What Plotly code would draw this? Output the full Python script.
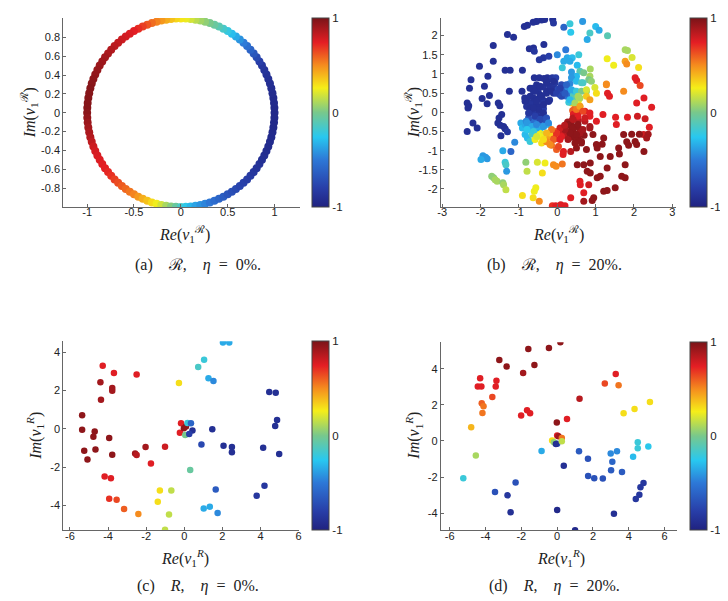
import math
import plotly.graph_objects as go

# ---------------- data ----------------
# (a) ring: angle (deg) on unit circle and colour value read along the ring
a_angle = [0, 3, 6, 9, 12, 15, 18, 21, 24, 27, 30, 33, 36, 39, 42, 45, 48, 51, 54, 57,
           60, 63, 66, 69, 72, 75, 78, 81, 84, 87, 90, 93, 96, 99, 102, 105, 108, 111, 114, 117,
           120, 123, 126, 129, 132, 135, 138, 141, 144, 147, 150, 153, 156, 159, 162, 165, 168,
           171, 174, 177, 180, 183, 186, 189, 192, 195, 198, 201, 204, 207, 210, 213, 216, 219,
           222, 225, 228, 231, 234, 237, 240, 243, 246, 249, 252, 255, 258, 261, 264, 267, 270,
           273, 276, 279, 282, 285, 288, 291, 294, 297, 300, 303, 306, 309, 312, 315, 318, 321,
           324, 327, 330, 333, 336, 339, 342, 345, 348, 351, 354, 357]
a_val = [-0.95, -0.95, -0.94, -0.94, -0.93, -0.92, -0.91, -0.9, -0.89, -0.87, -0.85, -0.8,
         -0.74, -0.67, -0.61, -0.55, -0.49, -0.42, -0.35, -0.29, -0.22, -0.16, -0.1, -0.05, 0.0,
         0.05, 0.09, 0.14, 0.19, 0.24, 0.28, 0.32, 0.37, 0.42, 0.47, 0.52, 0.57, 0.62, 0.67,
         0.71, 0.74, 0.76, 0.78, 0.8, 0.82, 0.84, 0.86, 0.88, 0.9, 0.91, 0.92, 0.93, 0.94, 0.95,
         0.96, 0.97, 0.97, 0.97, 0.97, 0.97, 0.96, 0.94, 0.92, 0.9, 0.88, 0.86, 0.83, 0.8, 0.78,
         0.77, 0.76, 0.75, 0.74, 0.72, 0.7, 0.67, 0.64, 0.61, 0.58, 0.55, 0.52, 0.47, 0.42, 0.37,
         0.31, 0.25, 0.18, 0.1, 0.03, -0.05, -0.15, -0.24, -0.31, -0.37, -0.42, -0.46, -0.51,
         -0.56, -0.6, -0.64, -0.68, -0.71, -0.74, -0.77, -0.79, -0.81, -0.83, -0.85, -0.87,
         -0.88, -0.9, -0.91, -0.92, -0.93, -0.93, -0.94, -0.94, -0.95, -0.95, -0.95]

# (b) scattered points
b_top_re = [-0.12, -0.33, -0.41, -0.54, -0.63, -0.78, -0.86, -0.10, 0.17, 0.33, 0.66, 1.0, 1.09,
            0.35, -1.30, -1.14, 0.85, 1.31, 0.78, -1.67, -0.62, -0.73, -0.35, -0.6, -0.36, -0.47,
            -0.22, 0.22, 0.0, 0.26, 0.39, 0.56]
b_top_im = [2.42, 2.42, 2.41, 2.37, 2.35, 2.27, 2.24, 2.33, 2.22, 2.31, 2.37, 2.24, 2.14, 2.09,
            2.03, 1.96, 2.07, 2.0, 1.9, 1.74, 1.68, 1.66, 1.77, 1.59, 1.42, 1.37, 1.46, 1.63, 1.5,
            1.42, 1.42, 1.5]
b_top_val = [-0.9, -0.9, -0.9, -0.9, -0.9, -0.9, -0.9, -0.85, -0.6, -0.2, -0.4, -0.3, -0.35,
             -0.25, -0.9, -0.9, -0.15, -0.1, -0.35, -0.9, -0.9, -0.9, -0.9, -0.85, -0.85, -0.85,
             -0.8, -0.5, -0.45, -0.35, -0.3, -0.2]

b_up_re = [1.77, 1.83, 1.95, -1.67, -2.03, -1.36, -1.23, -0.91, 0.17, 0.33, 0.13, 0.52, 0.59,
           0.69, 0.86, 0.85, 1.30, 1.47, 1.77, 1.81, 2.12, -1.81, -2.25, -0.6, -0.47, -0.35,
           -0.26, -0.13, -0.04, -1.9, -2.29, -1.25, -0.65, 0.82, 1.28, 2.03, 2.07, 2.16, 1.73]
b_up_im = [1.63, 1.61, 1.43, 1.33, 1.2, 1.1, 1.1, 1.1, 1.33, 1.33, 1.16, 1.23, 1.07, 1.03, 1.13,
           0.94, 1.4, 1.23, 1.33, 1.26, 1.17, 0.94, 0.85, 0.9, 0.9, 0.88, 0.9, 0.9, 0.9, 0.68,
           0.63, 0.55, 0.63, 0.85, 0.74, 0.9, 0.83, 0.7, 0.55]
b_up_val = [0.1, 0.1, 0.2, -0.9, -0.9, -0.9, -0.9, -0.9, -0.35, -0.35, -0.2, -0.3, -0.1, 0.0,
            0.1, 0.1, 0.25, 0.25, 0.45, 0.5, 0.3, -0.9, -0.9, -0.9, -0.9, -0.9, -0.9, -0.85,
            -0.8, -0.9, -0.9, -0.9, -0.85, 0.0, 0.5, 0.75, 0.75, 0.65, 0.5]

b_mid_re = [-2.35, -2.31, -2.33, -2.35, -2.2, -2.09, -1.96, -1.77, -1.83, -1.54, -1.50, -1.45,
            -0.85, -0.79, 1.31, 1.36, 2.07, 2.26, 2.46, 2.09, 2.29, 2.4, 2.25, 1.83, 1.52, 1.54]
b_mid_im = [0.24, 0.17, 0.11, -0.5, -0.28, -0.41, 0.36, 0.44, 0.22, 0.24, 0.17, -0.06, 0.37,
            0.29, 0.5, 0.42, 0.24, 0.37, 0.13, -0.1, -0.17, -0.39, -0.58, -0.13, -0.13, -0.32]
b_mid_val = [-0.9, -0.9, -0.9, -0.9, -0.9, -0.9, -0.9, -0.9, -0.9, -0.9, -0.9, -0.9, -0.9, -0.9,
             0.75, 0.75, 0.75, 0.75, 0.75, 0.8, 0.8, 0.75, 0.8, 0.75, 0.75, 0.75]

b_ll_re = [-1.11, -1.21, -1.42, -1.47, -1.55, -1.49, -1.40, -1.36, -1.30, -1.52, -1.94, -1.87,
           -1.83, -1.99, -1.36, -1.34, -1.32, -1.71, -1.66, -1.62, -1.57, -1.42, -1.40, -1.34,
           -0.82, -0.79, -0.52, -0.32, -0.39, -0.91, -0.63, -0.56, -0.60, -0.47, -0.84, -0.78,
           -0.71, -0.95, -0.91]
b_ll_im = [-0.78, -1.02, -1.0, -0.61, -0.28, -0.34, -0.37, -0.43, -0.51, -0.15, -1.13, -1.17,
           -1.21, -1.23, -1.30, -1.37, -1.54, -1.67, -1.71, -1.76, -1.8, -1.84, -1.89, -2.02,
           -1.30, -1.54, -1.30, -1.32, -1.58, -2.17, -2.23, -1.97, -2.06, -2.32, -0.58, -0.67,
           -0.76, -0.28, -0.41]
b_ll_val = [-0.45, -0.6, -0.35, -0.9, -0.9, -0.9, -0.9, -0.9, -0.85, -0.9, -0.4, -0.4, -0.4,
            -0.35, -0.2, -0.15, -0.4, 0.05, 0.05, 0.1, 0.1, 0.05, 0.1, 0.15, 0.05, 0.15, 0.2,
            0.25, 0.3, 0.3, 0.3, 0.25, 0.25, 0.5, -0.3, -0.3, -0.2, -0.35, -0.3]

b_lr_re = [-0.13, -0.04, 0.09, 0.2, -0.10, -0.03, 0.13, 0.15, 0.35, 0.52, 0.59, 0.6, 0.69, 0.78,
           0.86, 0.82, 0.95, 0.91, 0.69, 0.35, 1.21, 1.17, 1.04, 1.12, 1.38, 1.6, 1.62, 1.73,
           1.81, 1.86, 1.94, 2.14, 2.37, 2.33, 2.03, 2.07, 2.26, 1.77, 1.68, 1.77, 1.51, 1.30,
           1.21, 1.30, 1.04, 1.12, 0.69, 0.86]
b_lr_im = [-2.44, -2.44, -2.41, -2.44, -1.37, -1.41, -1.35, -1.10, -1.02, -1.37, -1.8, -1.89,
           -2.1, -1.54, -1.58, -1.89, -2.23, -2.3, -2.32, -2.23, -0.67, -0.83, -0.93, -1.15,
           -1.15, -0.93, -1.09, -0.58, -0.77, -0.86, -0.57, -0.57, -0.57, -0.67, -0.76, -0.84,
           -1.02, -1.37, -1.67, -1.71, -1.97, -2.04, -2.06, -1.45, -1.71, -1.67, -1.37, -1.32]
b_lr_val = [0.7, 0.75, 0.75, 0.75, 0.5, 0.5, 0.55, 0.75, 0.85, 0.95, 0.75, 0.75, 0.75, 0.95,
            0.95, 0.8, 0.95, 0.95, 0.9, 0.75, 0.95, 0.95, 0.95, 0.95, 0.95, 0.95, 0.95, 0.95,
            0.95, 0.95, 0.95, 0.95, 0.9, 0.9, 0.95, 0.95, 0.95, 0.95, 0.95, 0.95, 0.95, 0.95,
            0.95, 0.95, 0.95, 0.95, 0.95, 0.95]

b_in_re = [-0.71, -0.54, -0.28, -0.06, 0.11, -0.62, -0.45, -0.28, -0.1, 0.07, 0.24, -0.71, -0.54,
           -0.36, -0.23, -0.58, -0.41, -0.36, -0.75, -0.45, -0.33, -0.2, -0.84, -0.92,
           -0.84, -0.75, -0.66, -0.54, -0.36, -0.23, -0.81,
           -0.58, -0.41, -0.28, -0.15, -0.06, -0.19, -0.02, 0.11, -0.36, -0.02, 0.16,
           0.24, 0.37, 0.5, 0.33, 0.46, 0.59, 0.28, 0.63, 0.5, 0.27, 0.41, 0.72, 0.85, 0.93, 0.76,
           1.02,
           0.54, 0.46, 0.37, 0.59, 0.72, 0.85, 1.02, 1.19, 1.28, 0.59, 0.76, 0.67, 0.5, 0.37,
           0.89, 0.98, 1.02, 0.46, 0.28, 0.41, 0.3]
b_in_im = [0.63, 0.72, 0.81, 0.77, 0.72, 0.37, 0.46, 0.55, 0.5, 0.46, 0.42, 0.11, 0.2, 0.24,
           0.29, -0.06, 0.03, 0.09, -0.15, -0.19, -0.18, 0.32, 0.29, 0.55,
           -0.32, -0.45, -0.57, -0.41, -0.37, -0.32, -0.23,
           -0.71, -0.8, -0.77, -0.86, -0.69, -0.54, -0.5, -0.63, -0.58, -0.97, -1.02,
           -0.32, -0.23, -0.37, -0.5, -0.63, -0.54, -0.71, -0.8, -0.93, -0.25, -0.15, -0.23,
           -0.41, -0.58, -0.97, -0.84,
           -0.02, 0.11, 0.24, 0.16, 0.03, -0.1, -0.23, -0.06, 0.72, 0.37, 0.55, 0.77, 0.94, 1.05,
           0.81, 0.65, 0.5, 0.55, 0.63, 0.37, 0.26]
b_in_val = [-0.9, -0.9, -0.9, -0.85, -0.75, -0.9, -0.9, -0.9, -0.85, -0.7, -0.55, -0.9, -0.9,
            -0.85, -0.85, -0.85, -0.85, -0.8, -0.7, -0.6, -0.7, -0.85, -0.9, -0.9,
            -0.35, -0.3, -0.15, -0.35, -0.4, -0.3, -0.45,
            0.25, 0.3, 0.5, 0.55, 0.7, 0.35, 0.6, 0.75, 0.2, 0.6, 0.75,
            0.95, 0.95, 0.95, 0.95, 0.95, 0.9, 0.9, 0.95, 0.95, 0.9, 0.85, 0.85, 0.9, 0.95, 0.95,
            0.95,
            0.75, 0.6, 0.35, 0.5, 0.75, 0.75, 0.75, 0.75, 0.5, 0.1, 0.0, -0.15, -0.3, -0.4, 0.05,
            0.2, 0.3, -0.3, -0.45, -0.1, -0.2]

b_core_re = [-0.71, -0.58, -0.45, -0.28, -0.10, -0.54, -0.41, -0.28, -0.15, -0.02, -0.36, -0.23,
             -0.49, -0.36, -0.62, -0.75, -0.58, -0.45, -0.28, 0.11, 0.20, 0.07, 0.24,
             -0.79, -0.66, -0.54, -0.36, -0.79, -0.62, -0.23,
             0.37, 0.5, 0.63, 0.37, 0.5, 0.63, 0.33, 0.46, 0.54, 0.76, 0.76, 0.85,
             0.5, 0.59, 0.67, 0.54, 0.72, 0.41, 0.85,
             0.28, 0.41, 0.54, 0.33, 0.5, 0.67, 0.2, 0.63, 0.46, 0.85,
             0.07, -0.02, -0.15, -0.28, -0.45, -0.10, 0.07, 0.03, -0.19, -0.36, -0.54, 0.19]
b_core_im = [0.42, 0.55, 0.68, 0.77, 0.81, 0.29, 0.42, 0.50, 0.55, 0.50, 0.2, 0.29, 0.07, -0.02,
             0.11, -0.02, -0.10, -0.19, -0.15, 0.42, 0.50, 0.63, 0.72,
             -0.28, -0.37, -0.32, -0.37, -0.45, -0.5, -0.28,
             0.9, 0.81, 0.77, 0.59, 0.55, 0.55, 0.33, 0.24, 0.42, 0.59, 0.42, 0.33,
             0.07, 0.16, 0.03, -0.1, -0.15, -0.19, -0.02,
             -0.32, -0.41, -0.32, -0.54, -0.58, -0.45, -0.45, -0.76, -0.8, -0.37,
             -0.41, -0.54, -0.45, -0.54, -0.63, -0.71, -0.71, -0.89, -0.84, -0.71, -0.63, -0.34]
b_core_val = [-0.9, -0.9, -0.9, -0.9, -0.9, -0.9, -0.9, -0.9, -0.9, -0.8, -0.9, -0.9, -0.9,
              -0.9, -0.9, -0.85, -0.8, -0.75, -0.7, -0.75, -0.65, -0.8, -0.6,
              -0.4, -0.35, -0.45, -0.4, -0.25, -0.2, -0.45,
              -0.4, -0.3, -0.15, -0.35, -0.2, 0.0, -0.3, 0.1, 0.1, 0.2, 0.35, 0.45,
              0.55, 0.45, 0.65, 0.75, 0.8, 0.85, 0.75,
              0.95, 0.95, 0.95, 0.95, 0.95, 0.9, 0.9, 0.95, 0.95, 0.9,
              0.8, 0.7, 0.55, 0.4, 0.25, 0.6, 0.75, 0.65, 0.5, 0.3, 0.2, 0.85]

b_fill_re = [-0.62, -0.5, -0.37, -0.2, -0.66, -0.5, -0.38, -0.66, -0.52, -0.4, -0.1, 0.02,
             -0.8, -0.44,
             -0.7, -0.6, -0.48, -0.3, -0.7, -0.45,
             0.15, 0.3, 0.42, 0.55, 0.33,
             0.4, 0.6, 0.42, 0.55,
             0.35, 0.42, 0.6, 0.55, 0.38, 0.7,
             0.1, -0.08, -0.25, -0.45, 0.2]
b_fill_im = [0.55, 0.58, 0.66, 0.68, 0.25, 0.35, 0.33, 0.0, -0.1, -0.08, 0.66, 0.6, 0.15, 0.13,
             -0.25, -0.22, -0.25, -0.27, -0.45, -0.48,
             0.58, 0.5, 0.45, 0.3, 0.75,
             0.05, 0.05, -0.05, -0.2,
             -0.35, -0.5, -0.45, -0.68, -0.65, -0.6,
             -0.5, -0.6, -0.65, -0.55, -0.6]
b_fill_val = [-0.88, -0.88, -0.88, -0.88, -0.88, -0.88, -0.88, -0.88, -0.88, -0.88, -0.88,
              -0.75, -0.88, -0.88,
              -0.5, -0.55, -0.5, -0.5, -0.3, -0.3,
              -0.65, -0.45, -0.15, 0.25, -0.45,
              0.6, 0.65, 0.75, 0.85,
              0.95, 0.95, 0.95, 0.95, 0.95, 0.95,
              0.8, 0.65, 0.45, 0.25, 0.85]

# (c) points
c_re = [-4.28, -3.69, -2.50, -4.40, -3.78, -3.78, -4.37, -5.36, -5.36, -4.70, -4.77, -3.94,
        -5.25, -4.66, -5.08, -3.78, -2.58, -2.50, -2.03, -1.01, -1.75, -4.18, -3.85, -3.94,
        -3.55, -3.16, -2.41, -1.28, -0.68, -1.39, -0.80, -1.01, -0.28,
        2.03, 2.36, 1.04, 0.73, 1.27, 1.53, 4.46, 4.80, 4.87, 4.77, 1.47, 4.98, 4.14, 2.06,
        2.50, 2.50, 0.90, 0.31, 1.65, 4.21, 3.80, 1.02, 1.34, 1.75,
        -0.17, -0.23, -0.02, 0.09, 0.05, 0.17, 0.35, 0.43, 0.26]
c_im = [3.29, 2.90, 2.83, 2.43, 2.12, 1.98, 1.51, 0.70, -0.05, -0.14, -0.42, -0.49, -1.15,
        -1.08, -1.60, -1.36, -1.29, -1.37, -0.96, -0.94, -1.81, -2.49, -2.59, -3.65, -3.70,
        -4.19, -4.45, -3.22, -3.23, -3.81, -4.47, -5.27, 2.38,
        4.50, 4.50, 3.60, 3.22, 2.63, 2.49, 1.91, 1.88, 0.45, 0.14, -0.03, -1.32, -0.99, -0.89,
        -0.96, -1.23, -0.82, -2.16, -3.17, -2.97, -3.50, -4.16, -4.07, -4.40,
        0.28, -0.21, 0.03, 0.12, -0.33, 0.30, 0.28, -0.10, -0.28]
c_val = [0.75, 0.75, 0.75, 0.9, 0.9, 0.9, 0.9, 0.95, 0.95, 0.95, 0.95, 0.95, 0.95, 0.95, 0.95,
         0.95, 0.9, 0.85, 0.9, 0.8, 0.75, 0.75, 0.75, 0.7, 0.65, 0.6, 0.5, 0.3, 0.15, 0.3, 0.15,
         0.15, 0.3,
         -0.35, -0.35, -0.2, -0.15, -0.35, -0.45, -0.9, -0.9, -0.9, -0.9, -0.9, -0.9, -0.9, -0.9,
         -0.9, -0.9, -0.75, -0.05, -0.65, -0.85, -0.85, -0.35, -0.35, -0.45,
         0.75, 0.75, 0.95, 0.95, 0.0, -0.2, -0.6, -0.9, -0.8]

# (d) points
d_re = [0.18, -0.46, -1.61, -3.23, -2.82, -1.27, -1.90, -4.30, -3.39, -4.43, -4.23, -3.43,
        -3.62, -4.21, -4.11, -4.17, -4.80, -4.54, -5.24, -2.01, -1.68, -1.51, -0.02, 0.55, 1.25,
        2.66, 3.27, 3.43, 3.71, 4.32, 5.18,
        4.50, 4.50, 5.09, 4.24, 3.34, 2.99, 3.08, 3.62, 3.01, 1.22, 1.72, 1.73, 2.07, 2.55,
        4.82, 4.65, 4.59, 4.39, 3.17, 1.00, 0.0, 0.37, -0.87, -2.32, -3.47, -2.77, -2.60,
        0.0, 0.07, -0.28, 0.26, -0.18, 0.0, -0.07, 0.26]
d_im = [5.48, 5.17, 5.11, 4.50, 4.13, 4.22, 3.78, 3.48, 3.35, 3.02, 3.02, 3.02, 2.44, 2.09,
        1.93, 1.56, 0.76, -0.80, -2.07, 1.41, 1.70, 1.54, 1.02, 1.22, 2.35, 3.19, 3.72, 3.09,
        1.54, 1.78, 2.17,
        -0.07, -0.41, -0.30, -0.87, -0.57, -0.69, -1.15, -1.72, -1.63, -0.57, -0.98, -1.94,
        -2.07, -2.09, -2.33, -2.57, -2.98, -3.22, -4.04, -4.96, -3.83, -1.37, -0.56, -2.31,
        -2.83, -3.02, -3.96,
        0.31, 0.26, 0.02, 0.17, -0.07, -0.15, -0.17, -0.02]
d_val = [0.95, 0.95, 0.95, 0.95, 0.95, 0.95, 0.9, 0.75, 0.75, 0.75, 0.75, 0.75, 0.65, 0.6,
         0.55, 0.55, 0.4, 0.1, -0.2, 0.75, 0.75, 0.75, 0.95, 0.75, 0.85, 0.65, 0.75, 0.55, 0.3,
         0.3, 0.3,
         -0.2, -0.2, -0.25, -0.3, -0.45, -0.45, -0.6, -0.65, -0.65, -0.65, -0.7, -0.7, -0.7,
         -0.7, -0.85, -0.85, -0.85, -0.85, -0.9, -0.95, -0.95, -0.9, -0.35, -0.7, -0.7, -0.85,
         -0.9,
         0.75, 0.9, 0.3, 0.55, 0.05, -0.7, -0.9, 0.15]

cbar_vals = [-1, 0, 1]
cbar_text = ["-1", "0", "1"]

a_xticks = [-1, -0.5, 0, 0.5, 1]
a_xtext = ["-1", "-0.5", "0", "0.5", "1"]
a_yticks = [-0.8, -0.6, -0.4, -0.2, 0, 0.2, 0.4, 0.6, 0.8]
a_ytext = ["-0.8", "-0.6", "-0.4", "-0.2", "0", "0.2", "0.4", "0.6", "0.8"]
b_xticks = [-3, -2, -1, 0, 1, 2, 3]
b_xtext = ["-3", "-2", "-1", "0", "1", "2", "3"]
b_yticks = [-2, -1.5, -1, -0.5, 0, 0.5, 1, 1.5, 2]
b_ytext = ["-2", "-1.5", "-1", "-0.5", "0", "0.5", "1", "1.5", "2"]
cd_xticks = [-6, -4, -2, 0, 2, 4, 6]
cd_xtext = ["-6", "-4", "-2", "0", "2", "4", "6"]
cd_yticks = [-4, -2, 0, 2, 4]
cd_ytext = ["-4", "-2", "0", "2", "4"]

# ---------------- figure ----------------
W, H = 728, 601
jet = [[0.0, "rgb(32,34,128)"], [0.1, "rgb(40,62,168)"], [0.25, "rgb(45,120,215)"],
       [0.37, "rgb(40,200,240)"], [0.5, "rgb(120,200,140)"], [0.63, "rgb(245,238,25)"],
       [0.75, "rgb(245,140,30)"], [0.87, "rgb(228,30,36)"], [1.0, "rgb(122,20,24)"]]


def px(x):
    return x / W


def py(y):
    return 1 - y / H


def cbar(x0, y0, y1):
    return dict(x=px(x0), xanchor="left", xpad=0, y=py((y0 + y1) / 2), yanchor="middle",
                ypad=0, len=(y1 - y0) / H, lenmode="fraction", thickness=17,
                thicknessmode="pixels", outlinewidth=1, outlinecolor="#444",
                tickvals=cbar_vals, ticktext=cbar_text, ticks="",
                tickfont=dict(family="Liberation Sans, Arial", size=11.5, color="#222"))


def trace(re, im, val, xa, ya, size, cb):
    return go.Scatter(x=re, y=im, mode="markers", xaxis=xa, yaxis=ya, showlegend=False,
                      hoverinfo="skip",
                      marker=dict(color=val, colorscale=jet, cmin=-1, cmax=1, size=size,
                                  line=dict(width=0), showscale=cb is not None,
                                  colorbar=cb))


fig = go.Figure()

a_re = [math.cos(math.radians(t)) for t in a_angle]
a_im = [math.sin(math.radians(t)) for t in a_angle]
fig.add_trace(trace(a_re, a_im, a_val, "x", "y", 8, cbar(304, 10, 199)))

b_re = b_top_re + b_up_re + b_mid_re + b_ll_re + b_lr_re + b_fill_re + b_in_re + b_core_re
b_im = b_top_im + b_up_im + b_mid_im + b_ll_im + b_lr_im + b_fill_im + b_in_im + b_core_im
b_val = (b_top_val + b_up_val + b_mid_val + b_ll_val + b_lr_val + b_fill_val + b_in_val
         + b_core_val)
fig.add_trace(trace(b_re, b_im, b_val, "x2", "y2", 7, cbar(685, 10, 199)))
fig.add_trace(trace(c_re, c_im, c_val, "x3", "y3", 6.5, cbar(304, 333, 522)))
fig.add_trace(trace(d_re, d_im, d_val, "x4", "y4", 6.5, cbar(685, 334, 522)))

axis_style = dict(showline=True, linecolor="#666", linewidth=1, ticks="inside", ticklen=3,
                  tickcolor="#666", showgrid=False, zeroline=False, mirror=False,
                  tickfont=dict(family="Liberation Sans, Arial", size=11, color="#222"))
xstyle = dict(axis_style, ticklabelstandoff=-5)

fig.update_layout(
    width=W, height=H, margin=dict(l=0, r=0, t=0, b=0),
    paper_bgcolor="white", plot_bgcolor="white",
    xaxis=dict(domain=[px(52.7), px(291.7)], range=[-1.255, 1.275], anchor="y",
               tickvals=a_xticks, ticktext=a_xtext, **xstyle),
    yaxis=dict(domain=[py(199), py(10)], range=[-1.0, 1.005], anchor="x",
               tickvals=a_yticks, ticktext=a_ytext, **axis_style),
    xaxis2=dict(domain=[px(433.3), px(670.7)], range=[-3.04, 3.1], anchor="y2",
                tickvals=b_xticks, ticktext=b_xtext, **xstyle),
    yaxis2=dict(domain=[py(199), py(10)], range=[-2.47, 2.46], anchor="x2",
                tickvals=b_yticks, ticktext=b_ytext, **axis_style),
    xaxis3=dict(domain=[px(52.7), px(290)], range=[-6.35, 6.0], anchor="y3",
                tickvals=cd_xticks, ticktext=cd_xtext, **xstyle),
    yaxis3=dict(domain=[py(522.3), py(333.3)], range=[-5.3, 4.56], anchor="x3",
                tickvals=cd_yticks, ticktext=cd_ytext, **axis_style),
    xaxis4=dict(domain=[px(433.3), px(671.7)], range=[-6.5, 6.7], anchor="y4",
                tickvals=cd_xticks, ticktext=cd_xtext, **xstyle),
    yaxis4=dict(domain=[py(522.3), py(334.3)], range=[-4.96, 5.48], anchor="x4",
                tickvals=cd_yticks, ticktext=cd_ytext, **axis_style),
)

serif = "Liberation Serif, DejaVu Serif, serif"
title_font = dict(family=serif, size=16, color="#222")
cap_font = dict(family=serif, size=16, color="#222")

im_cal = "<i>Im</i>(<i>v</i><sub>1</sub><sup>ℛ</sup>)"
re_cal = "<i>Re</i>(<i>v</i><sub>1</sub><sup>ℛ</sup>)"
im_r = "<i>Im</i>(<i>v</i><sub>1</sub><sup><i>R</i></sup>)"
re_r = "<i>Re</i>(<i>v</i><sub>1</sub><sup><i>R</i></sup>)"

ann = []
for text, x, y, ang in [
    (im_cal, 18, 104.5, -90), (im_cal, 405, 104.5, -90),
    (im_r, 24, 428, -90), (im_r, 406, 428, -90),
    (re_cal, 175, 226, 0), (re_cal, 552, 226, 0),
    (re_r, 175, 550, 0), (re_r, 555, 550, 0),
]:
    ann.append(dict(text=text, x=px(x), y=py(y), xref="paper", yref="paper",
                    showarrow=False, textangle=ang, font=title_font,
                    xanchor="center", yanchor="middle"))

EM, EN = "\u2003", "\u2002"
for text, x, y in [
    ("(a)" + EM + "ℛ," + EM + "<i>η</i>" + EN + "=" + EN + "0%.", 189, 257),
    ("(b)" + EM + "ℛ," + EM + "<i>η</i>" + EN + "=" + EN + "20%.", 548, 257),
    ("(c)" + EM + "<i>R</i>," + EM + "<i>η</i>" + EN + "=" + EN + "0%.", 189, 578),
    ("(d)" + EM + "<i>R</i>," + EM + "<i>η</i>" + EN + "=" + EN + "20%.", 548, 578),
]:
    ann.append(dict(text=text, x=px(x), y=py(y), xref="paper", yref="paper",
                    showarrow=False, font=cap_font, xanchor="center", yanchor="middle"))

fig.update_layout(annotations=ann)
fig.write_html("out.html")
